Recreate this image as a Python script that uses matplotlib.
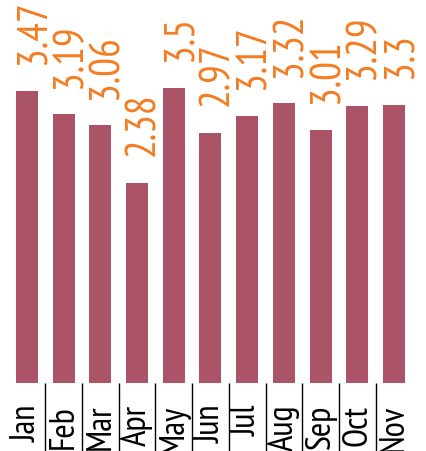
import numpy as np
import matplotlib.pyplot as plt
from matplotlib.ticker import FixedLocator

# data
months = ['Jan', 'Feb', 'Mar', 'Apr', 'May', 'Jun', 'Jul', 'Aug', 'Sep', 'Oct', 'Nov']
values = [3.47, 3.19, 3.06, 2.38, 3.5, 2.97, 3.17, 3.32, 3.01, 3.29, 3.3]

bar_color = '#ab5468'
label_color = '#f47b20'
fonts = ['PT Sans Narrow', 'Roboto Condensed', 'DejaVu Sans']

fig = plt.figure(figsize=(4.26, 4.52), dpi=100)
ax = fig.add_axes([0.0202, 0.1504, 0.9478, 0.8496])

x = np.arange(len(months))
ax.bar(x, values, width=0.6, color=bar_color)

# value labels above bars
for xi, v in zip(x, values):
    ax.annotate(f'{v:g}', (xi, v), xytext=(5, 20), textcoords='offset points',
                rotation=90, ha='center', va='bottom', color=label_color,
                fontsize=30, family=fonts, fontweight='normal')

ax.set_xlim(-0.5, len(months) - 0.5)
ax.set_ylim(0, 4.56)
for s in ax.spines.values():
    s.set_visible(False)
ax.set_yticks([])

ax.set_xticks(x)
ax.set_xticklabels(months, rotation=90, fontsize=25, family=fonts, fontweight='normal', va='top')
ax.tick_params(axis='x', which='major', length=0, pad=15)
ax.xaxis.set_minor_locator(FixedLocator(np.arange(0.5, len(months) - 1, 1.0)))
ax.tick_params(axis='x', which='minor', length=50, width=1, color='black', direction='out')

fig.savefig('out.png', dpi=100)
